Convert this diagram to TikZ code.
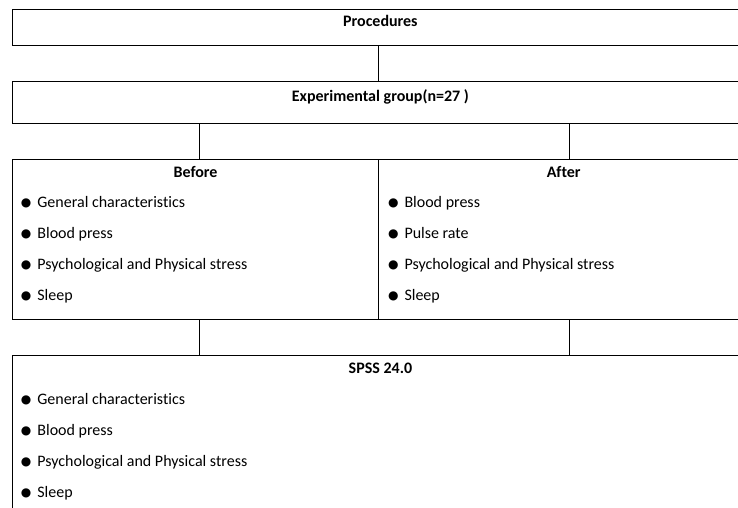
\documentclass[tikz,border=0pt]{standalone}
\usepackage{fontspec}
\setmainfont{Carlito}[Ligatures=NoCommon]
\newfontfamily\symfont{DejaVu Sans}
\usetikzlibrary{positioning}

\tikzset{
  box/.style={draw, line width=1.1pt, rectangle, inner sep=0pt, anchor=north west},
  link/.style={line width=1.1pt},
  title/.style={font=\fontsize{16}{18}\selectfont\bfseries, anchor=base, inner sep=0pt},
  item/.style={font=\fontsize{16}{18}\selectfont, anchor=base west, inner sep=0pt}
}
\newcommand{\bul}{\makebox[16.5pt][l]{\raisebox{0.8pt}{\symfont\fontsize{12}{12}\selectfont ●}}}

\begin{document}
\begin{tikzpicture}[x=1pt,y=-1pt]
\pgfmathsetmacro{\boxl}{11.7}
\pgfmathsetmacro{\boxr}{748}
\pgfmathsetmacro{\boxm}{378.3}
\useasboundingbox (0,0) rectangle (738,508);
\clip (0,0) rectangle (738,508);

\node[box, minimum width=\boxr-\boxl, minimum height=35.7] (proc) at (\boxl,9.3) {};
\node[box, minimum width=\boxr-\boxl, minimum height=42.3] (exp) at (\boxl,81) {};
\node[box, minimum width=\boxm-\boxl, minimum height=160] (before) at (\boxl,159.3) {};
\node[box, minimum width=\boxr-\boxm, minimum height=160] (after) at (\boxm,159.3) {};
\node[box, minimum width=\boxr-\boxl, minimum height=220] (spss) at (\boxl,355) {};

\node[title] (proctxt) at ([yshift=-17.2pt]proc.north) {Procedures};
\node[title] (exptxt) at ([yshift=-20.7pt]exp.north) {Experimental group(n=27 )};
\node[title] (beforetxt) at ([yshift=-18.4pt]before.north) {Before};
\node[title] (aftertxt) at ([yshift=-18.4pt]after.north) {After};
\node[title] (spsstxt) at ([yshift=-18.3pt]spss.north) {SPSS 24.0};

\foreach \t [count=\i] in {General characteristics, Blood press, Psychological and Physical stress, Sleep}
  \node[item] (bf\i) at ([xshift=9pt, yshift={-48-31*(\i-1)}]before.north west) {\bul\t};
\foreach \t [count=\i] in {Blood press, Pulse rate, Psychological and Physical stress, Sleep}
  \node[item] (af\i) at ([xshift=9.5pt, yshift={-48-31*(\i-1)}]after.north west) {\bul\t};
\foreach \t [count=\i] in {General characteristics, Blood press, Psychological and Physical stress, Sleep}
  \node[item] (sp\i) at ([xshift=9pt, yshift={-49.3-31*(\i-1)}]spss.north west) {\bul\t};

\coordinate (mid) at (\boxm,0);
\coordinate (lft) at (199.3,0);
\coordinate (rgt) at (569.3,0);
\draw[link] (proc.south -| mid) -- (exp.north -| mid);
\draw[link] (exp.south -| lft) -- (before.north -| lft);
\draw[link] (exp.south -| rgt) -- (after.north -| rgt);
\draw[link] (before.south -| lft) -- (spss.north -| lft);
\draw[link] (after.south -| rgt) -- (spss.north -| rgt);
\end{tikzpicture}
\end{document}
